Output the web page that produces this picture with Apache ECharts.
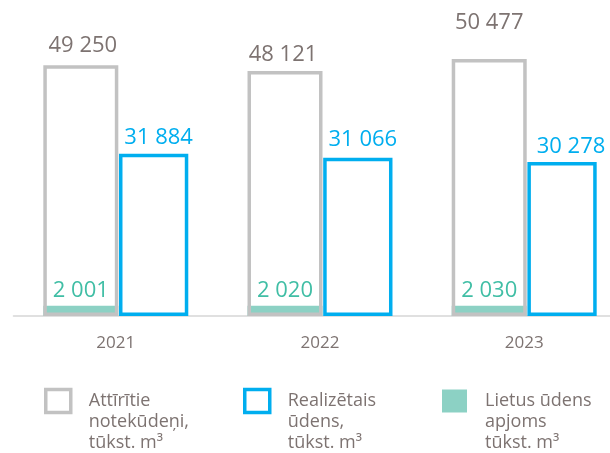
<!DOCTYPE html>
<html lang="lv">
<head>
    <meta charset="UTF-8">
    <title>Ūdens apjomi</title>
    <script type="text/javascript" src="https://cdn.jsdelivr.net/npm/echarts@6/dist/echarts.min.js"></script>
    <style>
        body{
            padding: 0px;
            margin: 0px;
            background-color: #ffffff;
        }
        #chart{
            width: 610px;
            height: 453px;
        }
    </style>
</head>
<body>
    <div id="chart"></div>
    <script>
        // dati, tūkst. m3
        var years = ['2021', '2022', '2023'];
        var treatedWaste = [49250, 48121, 50477];
        var soldWater = [31884, 31066, 30278];
        var rainWater = [2001, 2020, 2030];

        var seriesNames = [
            'Attīrītie notekūdeņi, tūkst. m³',
            'Realizētais ūdens, tūkst. m³',
            'Lietus ūdens apjoms tūkst. m³'
        ];
        // divas tukšas rindas priekšā, lai pirmā rinda būtu pret ikonu
        var legendTexts = [
            '\n\nAttīrītie\nnotekūdeņi,\ntūkst. m³',
            '\n\nRealizētais\nūdens,\ntūkst. m³',
            '\n\nLietus ūdens\napjoms\ntūkst. m³'
        ];

        var GRAY = '#c2c2c2';
        var BLUE = '#00aeef';
        var TEAL = '#8cd1c4';
        var TEXT = '#7d7371';
        var FONT = '"Open Sans", sans-serif';

        // label nobīdes kā oriģinālā
        var grayLabelOffsets = [[2, -4], [-2, 0], [0, -20]];
        var blueLabelOffsets = [[5, 0], [5, -2], [9, 1]];

        function fmt(v) {
            return String(v).replace(/\B(?=(\d{3})+(?!\d))/g, ' ');
        }

        function withOffsets(values, offsets) {
            return values.map(function (v, i) {
                return {value: v, label: {offset: offsets[i]}};
            });
        }

        function makeLegend(i, left, top, itemStyle) {
            return {
                data: [seriesNames[i]],
                left: left,
                top: top,
                padding: 0,
                orient: 'vertical',
                selectedMode: false,
                icon: 'rect',
                itemWidth: 25,
                itemHeight: 23,
                itemStyle: itemStyle,
                formatter: function () { return legendTexts[i]; },
                textStyle: {
                    color: TEXT,
                    fontFamily: FONT,
                    fontSize: 18,
                    lineHeight: 21,
                    padding: [0, 0, 0, 13]
                }
            };
        }

        var chart = echarts.init(document.getElementById('chart'));

        var option = {
            animation: false,
            backgroundColor: '#ffffff',
            grid: {
                left: 13.7, right: -16.3, top: 10.6, bottom: 137,
                containLabel: false,
                outerBoundsMode: 'none'
            },
            xAxis: [{
                type: 'category',
                data: years,
                offset: 2.3,
                axisLine: {lineStyle: {color: '#e0e0e0', width: 2}},
                axisTick: {show: false},
                axisLabel: {color: TEXT, fontFamily: FONT, fontSize: 17, margin: 16}
            }, {
                type: 'category',
                data: years,
                show: false
            }],
            yAxis: {
                type: 'value',
                min: 0,
                max: 60000,
                show: false,
                splitLine: {show: false}
            },
            legend: [
                makeLegend(0, 44, 348.5, {color: '#ffffff', borderColor: GRAY, borderWidth: 3.5}),
                makeLegend(1, 243, 348.5, {color: '#ffffff', borderColor: BLUE, borderWidth: 3.5}),
                makeLegend(2, 442, 348.5, {color: TEAL, borderWidth: 0})
            ],
            series: [{
                name: seriesNames[0],
                type: 'bar',
                xAxisIndex: 0,
                barWidth: 75,
                barGap: '0.9%',
                z: 3,
                data: withOffsets(treatedWaste, grayLabelOffsets),
                itemStyle: {color: 'rgba(0,0,0,0)', borderColor: GRAY, borderWidth: 3.5},
                label: {
                    show: true, position: 'top', distance: 5,
                    color: TEXT, fontFamily: FONT, fontSize: 22,
                    formatter: function (p) { return fmt(p.value); }
                }
            }, {
                name: seriesNames[1],
                type: 'bar',
                xAxisIndex: 0,
                barWidth: 69.3,
                z: 3,
                data: withOffsets(soldWater, blueLabelOffsets),
                itemStyle: {color: '#ffffff', borderColor: BLUE, borderWidth: 3.5},
                label: {
                    show: true, position: 'top', distance: 5,
                    color: BLUE, fontFamily: FONT, fontSize: 22,
                    formatter: function (p) { return fmt(p.value); }
                }
            }, {
                name: seriesNames[2],
                type: 'bar',
                xAxisIndex: 1,
                barWidth: 75,
                barGap: '0.9%',
                z: 2,
                data: rainWater,
                itemStyle: {color: TEAL},
                label: {
                    show: true, position: 'top', distance: 4,
                    color: '#40bea5', fontFamily: FONT, fontSize: 22,
                    formatter: function (p) { return fmt(p.value); }
                }
            }, {
                name: '_spacer',
                type: 'bar',
                xAxisIndex: 1,
                barWidth: 69.3,
                silent: true,
                data: ['-', '-', '-']
            }]
        };

        chart.setOption(option);
    </script>
</body>
</html>
